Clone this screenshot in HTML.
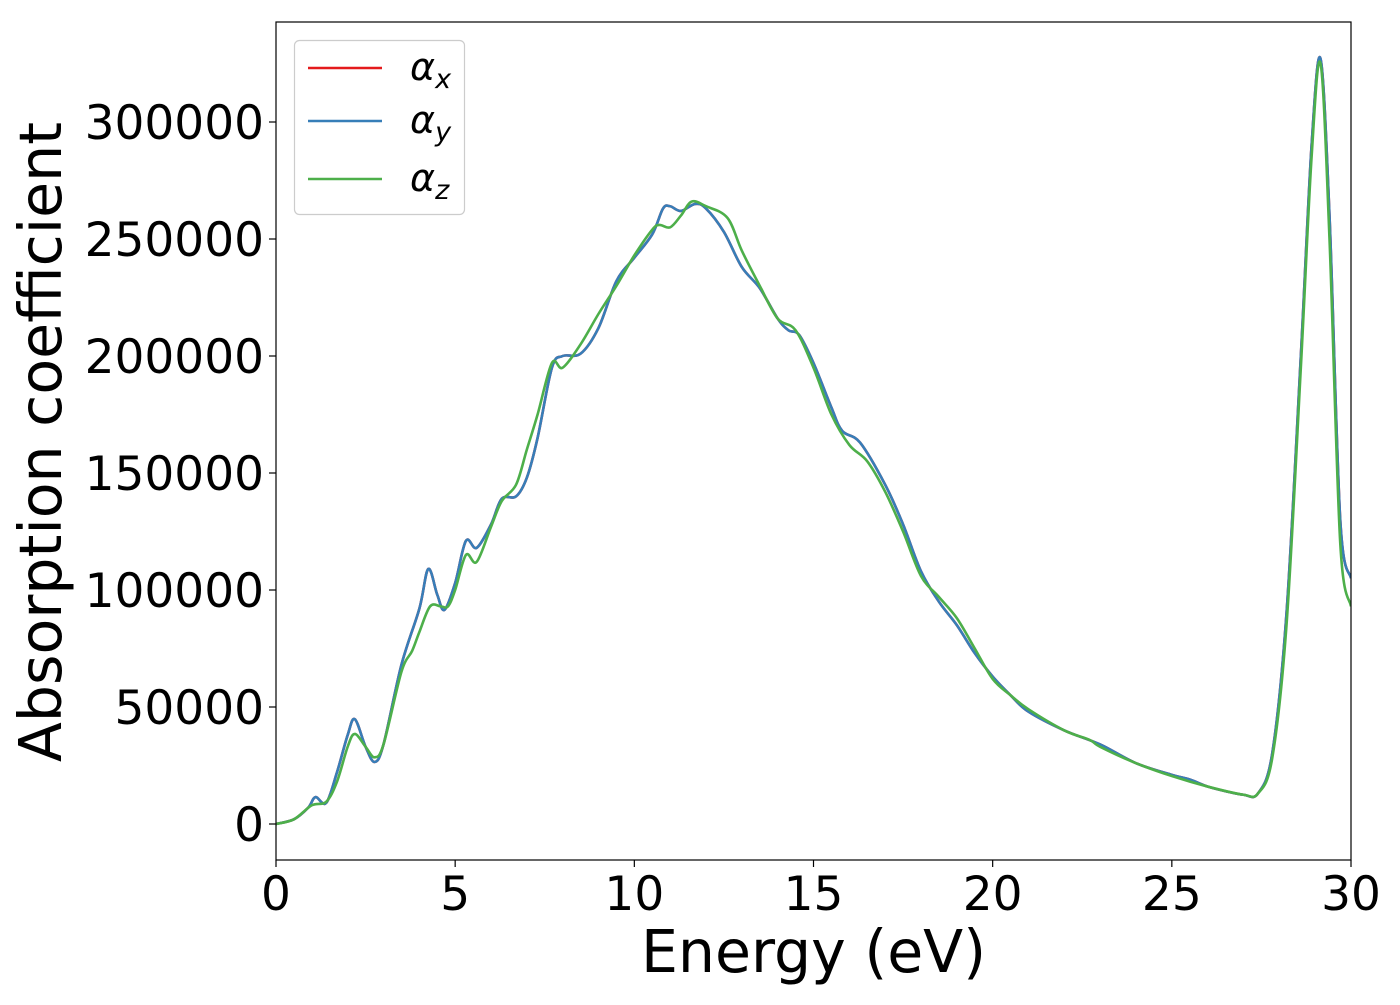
<!DOCTYPE html>
<html><head><meta charset="utf-8"><style>
body{margin:0;background:#fff;}
svg text{font-family:"DejaVu Sans","Liberation Sans",sans-serif;fill:#000;}
</style></head><body>
<svg id="chart" width="1400" height="1000" xmlns="http://www.w3.org/2000/svg">
<g id="plot"></g>
</svg>
<script>
const xTicks=[0,5,10,15,20,25,30];
const yTicks=[0,50000,100000,150000,200000,250000,300000];
const energyB=[0,0.5,0.9,1.1,1.4,1.7,2.0,2.2,2.5,2.75,3.0,3.5,4.0,4.25,4.5,4.7,5.0,5.3,5.6,6.0,6.3,6.7,7.0,7.3,7.7,8.0,8.5,9.0,9.5,10.0,10.5,10.8,11.0,11.3,11.7,12.0,12.5,13.0,13.5,14.0,14.3,14.6,15.0,15.5,15.8,16.3,17,17.5,18,18.5,19,19.5,20,20.5,21,22,23,24,25,25.5,26,26.5,27,27.4,27.8,28.2,28.6,28.9,29.15,29.4,29.7,30];
const alphaY=[0,2000,7000,11500,9000,22000,38000,44800,33000,26500,34000,68000,92000,109000,98000,91500,103000,121000,118000,128000,139000,140000,148000,165000,195000,200000,201000,212000,232000,242000,252000,263000,264000,262000,265000,263000,253000,238000,229000,216000,211000,209000,197000,178000,168000,163000,145000,128000,108000,95000,85000,73000,63000,55000,48000,40000,34000,26000,21000,19000,16000,14000,12500,13000,30000,90000,200000,290000,327000,260000,130000,105000];
const alphaX=alphaY.slice();
const energyZ=[0,0.5,1.0,1.4,1.7,2.0,2.2,2.5,2.75,3.0,3.5,3.8,4.0,4.3,4.6,4.8,5.0,5.3,5.6,6.0,6.3,6.7,7.0,7.3,7.7,8.0,8.5,9.0,9.5,10.0,10.5,10.7,11.0,11.3,11.6,12.0,12.6,13.0,13.5,14.0,14.5,15,15.5,16,16.5,17,17.5,18,18.5,19,19.5,20,20.5,21,22,22.7,23,24,25,26,27,27.4,27.8,28.2,28.6,28.9,29.15,29.4,29.7,30];
const alphaZ=[0,2000,8000,9500,18000,33000,38500,33000,28500,34000,65000,74000,82000,93000,93000,93000,100000,115000,112000,127000,138000,145000,160000,175000,197000,195000,205000,218000,230000,243000,254000,256000,255000,260000,266000,264000,259000,245000,230000,216000,211000,195000,175000,162000,155000,142000,125000,106000,97000,88000,75000,62000,55000,49000,40000,36000,33000,26000,20500,16000,12500,13000,28000,85000,195000,285000,325000,250000,120000,93000];

const L=276,R=1351,T=22,B=860;
const sx=v=>L+(v-0)/30*(R-L);
const y0=824,y300=122;
const sy=v=>y0-(v/300000)*(y0-y300);
const NS="http://www.w3.org/2000/svg";
const svg=document.getElementById('chart');
function mk(t,a,p){const e=document.createElementNS(NS,t);for(const k in a)e.setAttribute(k,a[k]);(p||svg).appendChild(e);return e;}

function pathFor(xs,ys){
  const p=xs.map((x,i)=>[sx(x),sy(ys[i])]);
  let d=`M${p[0][0]},${p[0][1]}`;
  for(let i=0;i<p.length-1;i++){
    const p0=p[Math.max(0,i-1)],p1=p[i],p2=p[i+1],p3=p[Math.min(p.length-1,i+2)];
    const c1=[p1[0]+(p2[0]-p0[0])/6,p1[1]+(p2[1]-p0[1])/6];
    const c2=[p2[0]-(p3[0]-p1[0])/6,p2[1]-(p3[1]-p1[1])/6];
    d+=`C${c1[0]},${c1[1]} ${c2[0]},${c2[1]} ${p2[0]},${p2[1]}`;
  }
  return d;
}
const clip=mk('clipPath',{id:'cp'});mk('rect',{x:L,y:T,width:R-L,height:B-T},clip);
const series=[[energyB,alphaX,'#e41a1c','series-alpha-x'],[energyB,alphaY,'#377eb8','series-alpha-y'],[energyZ,alphaZ,'#4daf4a','series-alpha-z']];
series.forEach(s=>{
  const e=mk('path',{d:pathFor(s[0],s[1]),fill:'none',stroke:s[2],'stroke-width':2.6,'clip-path':'url(#cp)'});
  
  
});
const frame=mk('rect',{x:L,y:T,width:R-L,height:B-T,fill:'none',stroke:'#000','stroke-width':1.2});


xTicks.forEach(v=>{
  mk('line',{x1:sx(v),x2:sx(v),y1:B,y2:B+7,stroke:'#000','stroke-width':1.2});
  const t=mk('text',{x:sx(v),y:B+50,'font-size':47,'text-anchor':'middle'});t.textContent=v;
  
  
});
yTicks.forEach(v=>{
  mk('line',{x1:L-7,x2:L,y1:sy(v),y2:sy(v),stroke:'#000','stroke-width':1.2});
  const t=mk('text',{x:L-12,y:sy(v)+17,'font-size':47,'text-anchor':'end'});t.textContent=v;
  
  
});
const xt=mk('text',{x:(L+R)/2,y:972,'font-size':58.5,'text-anchor':'middle'});xt.textContent='Energy (eV)';


const yt=mk('text',{x:0,y:0,'font-size':58.5,'text-anchor':'middle',transform:`translate(61,442) rotate(-90)`});yt.textContent='Absorption coefficient';


const lg=mk('g',{});


mk('rect',{x:294.5,y:40.5,width:170,height:174,rx:5,fill:'#fff',stroke:'#ccc','stroke-width':1.2},lg);
const labs=['x','y','z'],ly=[68,121,179];
series.forEach((s,i)=>{
  mk('line',{x1:308,x2:382,y1:ly[i],y2:ly[i],stroke:s[2],'stroke-width':2.6},lg);
  const t=mk('text',{x:410,y:ly[i]+12,'font-size':38,'font-style':'italic'},lg);
  t.textContent='α';
  const sub=mk('tspan',{'font-size':27,dy:8},t);sub.textContent=labs[i];
  
  
});
</script>
</body></html>
